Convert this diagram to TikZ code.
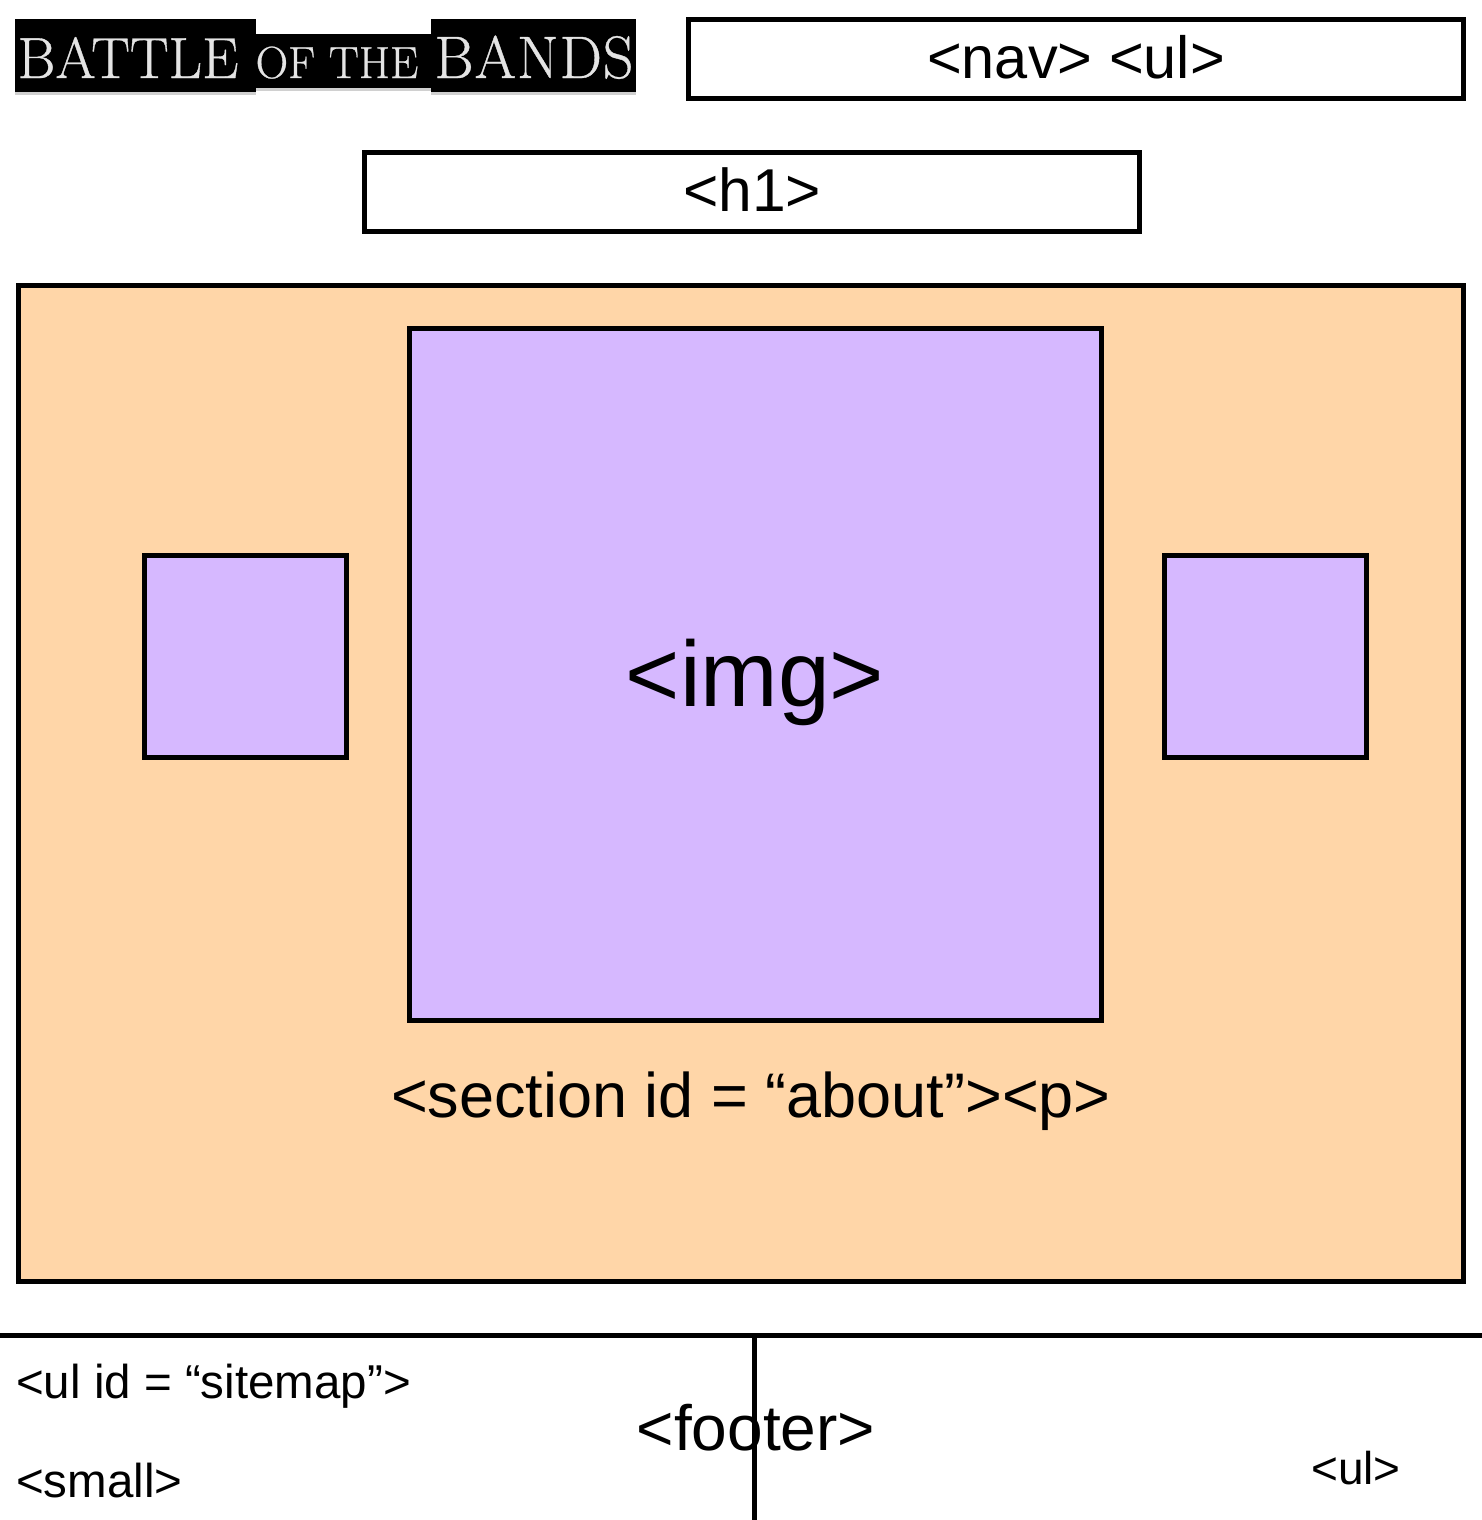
\documentclass[tikz,border=0pt]{standalone}
\usepackage{fontspec}
\setmainfont{Liberation Sans}
\newfontfamily\slabfont[FakeBold=0.6]{Latin Modern Roman}
\newfontfamily\slabwide[FakeBold=0.6,LetterSpace=1.5]{Latin Modern Roman}
\definecolor{peach}{HTML}{FFD6A8}
\definecolor{lilac}{HTML}{D6B8FF}
\definecolor{logoface}{HTML}{E4E4E4}
\definecolor{logoshadow}{HTML}{D0D0D0}
\tikzset{
  box/.style={draw=black,line width=5pt,inner sep=0pt,outer sep=0pt,anchor=north west},
  wire/.style={draw=black,line width=5pt},
  label/.style={inner sep=0pt,text=black},
  logotext/.style={inner sep=0pt,text=logoface},
  logoback/.style={fill=black,draw=none,inner sep=0pt,outer sep=0pt,anchor=north west},
  logoshade/.style={fill=logoshadow,draw=none,inner sep=0pt,outer sep=0pt,anchor=north west}
}
\newcommand{\fs}[1]{\fontsize{#1}{#1}\selectfont}
\begin{document}
\begin{tikzpicture}[x=1pt,y=-1pt]
\useasboundingbox (0,0) rectangle (1482,1520);
% logo
\node[logoshade,minimum width=241pt,minimum height=4pt] at (15,91) {};
\node[logoshade,minimum width=175pt,minimum height=4pt] at (256,87) {};
\node[logoshade,minimum width=205pt,minimum height=4pt] at (431,91) {};
\node[logoback,minimum width=241pt,minimum height=73pt] (logoa) at (15,19) {};
\node[logoback,minimum width=175pt,minimum height=54pt] (logob) at (256,34) {};
\node[logoback,minimum width=205pt,minimum height=73pt] (logoc) at (431,19) {};
\node[logotext,anchor=base] at (128,78) {\slabfont\fs{58}BATTLE};
\node[logotext,anchor=base] at (337,78) {\slabfont\fs{45}OF THE};
\node[logotext,anchor=base] at (534,78) {\slabwide\fs{60}BANDS};
% header boxes
\node[box,fill=white,minimum width=775pt,minimum height=79pt] (nav) at (688.5,19.5) {};
\node[label,anchor=base] at (1076,78) {\fs{59.5}<nav> <ul>};
\node[box,fill=white,minimum width=775pt,minimum height=79pt] (h1) at (364.5,152.5) {};
\node[label,anchor=base] at (752,211) {\fs{60.5}<h1>};
% section
\node[box,fill=peach,minimum width=1445pt,minimum height=996pt] (section) at (18.5,285.5) {};
\node[box,fill=lilac,minimum width=692pt,minimum height=692pt] (img) at (409.5,328.5) {};
\node[box,fill=lilac,minimum width=202pt,minimum height=202pt] (imgl) at (144.5,555.5) {};
\node[box,fill=lilac,minimum width=202pt,minimum height=202pt] (imgr) at (1164.5,555.5) {};
\node[label,anchor=base] at (755,706) {\fs{93}<img>};
\node[label,anchor=base] at (751,1117) {\fs{63}<section id = “about”><p>};
% footer
\coordinate (fl) at (0,1335.5);
\coordinate (fr) at (1482,1335.5);
\coordinate (vt) at (754.5,1335.5);
\coordinate (vb) at (754.5,1520);
\draw[wire] (fl) -- (fr);
\draw[wire] (vt) -- (vb);
\node[label,anchor=base west] at (16,1398) {\fs{47.5}<ul id = “sitemap”>};
\node[label,anchor=base west] at (16,1497) {\fs{47.5}<small>};
\node[label,anchor=base] at (756,1450) {\fs{64}<footer>};
\node[label,anchor=base] at (1356,1484) {\fs{46}<ul>};
\end{tikzpicture}
\end{document}
